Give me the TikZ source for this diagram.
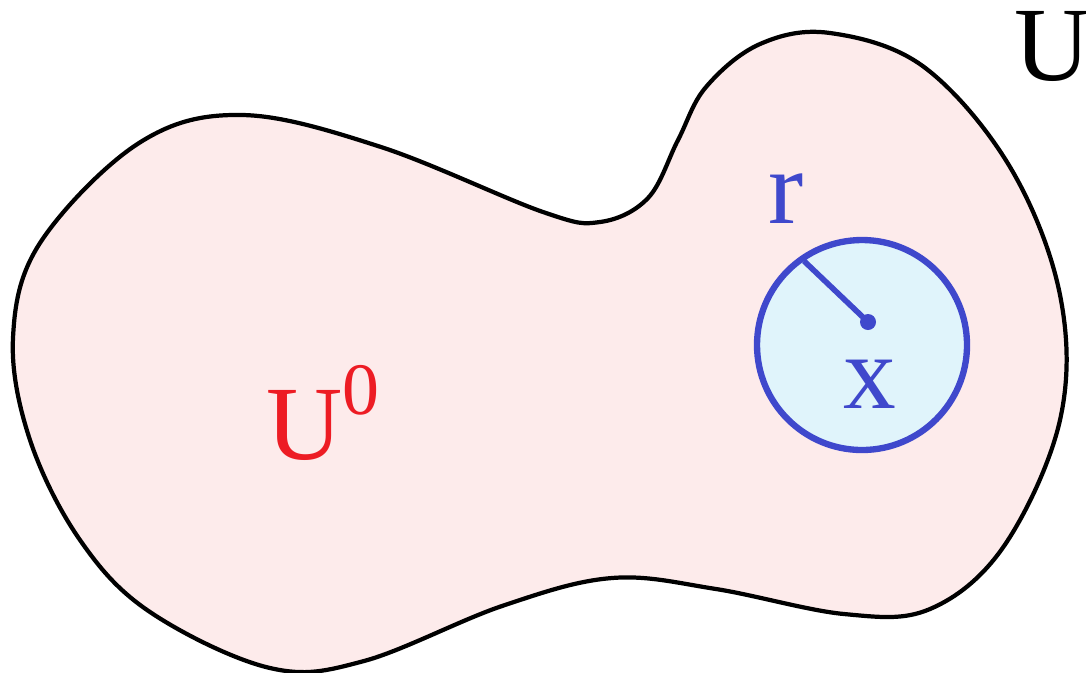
\documentclass[tikz,border=0pt]{standalone}
\usepackage{fontspec}
\setmainfont{Liberation Serif}
\definecolor{blobfill}{RGB}{253,235,235}
\definecolor{ballfill}{RGB}{224,244,251}
\definecolor{ballblue}{RGB}{63,72,204}
\definecolor{setred}{RGB}{237,28,36}

\begin{document}
\begin{tikzpicture}[x=0.01cm,y=-0.01cm,
        lbl/.style={inner sep=0pt,anchor=base west,font=\fontsize{30}{36}\selectfont}]
        \useasboundingbox (0,0) rectangle (1086,672);

        % the set U
        \draw[line width=1.2pt,fill=blobfill] plot[smooth cycle,tension=0.6] coordinates {
            (13,338) (40,243) (139,143) (242,115) (381,147) (543,212)
            (600,222) (648,198) (678,140) (706,87) (760,44) (830,33) (924,67)
            (1010,167) (1060,295) (1060,420) (1004,546) (930,609) (844,614)
            (716,589) (612,578) (502,606) (364,661) (270,668) (150,612)
            (80,540) (30,440)};

        % the ball round x
        \draw[ballblue,line width=1.8pt,fill=ballfill] (862,345) circle (105);
        \coordinate (X) at (868,322);
        \coordinate (R) at (804,261);
        \draw[ballblue,line width=1.6pt] (X)--(R);
        \fill[ballblue] (X) circle (8);

        \draw (1014,80) node[lbl] (U) {U};
        \draw (266,459) node[lbl,text=setred] (U0) {U\raisebox{12.8pt}{\fontsize{21}{21}\selectfont 0}};
        \draw (768,223) node[lbl,text=ballblue] (r) {r};
        \draw (843,408) node[lbl,text=ballblue] (x) {x};
    \end{tikzpicture}
\end{document}
